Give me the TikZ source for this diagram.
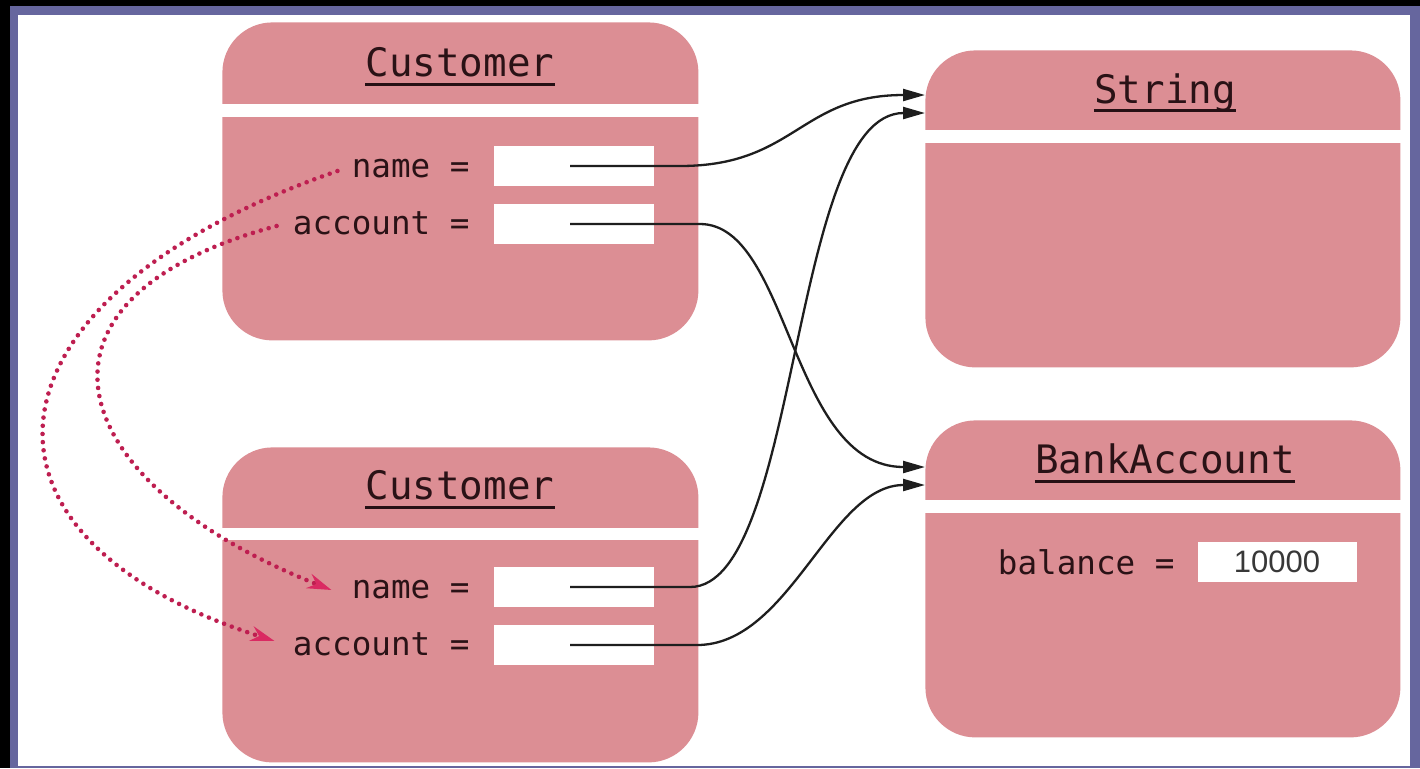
\documentclass[tikz,border=0pt]{standalone}
\usepackage{fontspec}
\setmonofont{DejaVu Sans Mono}
\newfontfamily\numfont{Liberation Sans}
\usetikzlibrary{arrows.meta}

\definecolor{framepurple}{HTML}{66669E}
\definecolor{objpink}{HTML}{DC8E94}
\definecolor{inkdark}{HTML}{2A1216}
\definecolor{refline}{HTML}{1E1E1E}
\definecolor{copyred}{HTML}{BE1E50}
\definecolor{copytip}{HTML}{DA2A62}

\begin{document}
\begin{tikzpicture}[x=0.5pt,y=-0.5pt,
  objbox/.style={fill=objpink, rounded corners=25pt, anchor=north west,
    inner sep=0pt, minimum width=238pt},
  gapband/.style={fill=white},
  classname/.style={font=\ttfamily\fontsize{19.6}{22}\selectfont, text=inkdark,
    inner sep=0pt, anchor=base},
  uline/.style={draw=inkdark!90!black, line width=1.5pt},
  fieldname/.style={font=\ttfamily\fontsize{16.3}{19}\selectfont, text=inkdark,
    inner sep=0pt, anchor=mid east},
  fieldbox/.style={fill=white, inner sep=0pt, minimum width=80pt,
    minimum height=20pt},
  ref/.style={draw=refline, line width=1.15pt,
    -{Triangle[length=11pt,width=6pt]}},
  copyref/.style={draw=copyred, line width=2.3pt, line cap=round,
    dash pattern=on 0pt off 4.1pt,
    -{Stealth[length=12pt,width=7.5pt,color=copytip]}},
]
% page, frame and white paper
\useasboundingbox (0,0) rectangle (1420,768);
\fill[black] (0,0) rectangle (1420,768);
\fill[framepurple] (10,6) rectangle (1420,768);
\fill[white] (18,15) rectangle (1410,766);

% ---- first Customer object
\node[objbox, minimum height=159pt] (cust1) at (222,22) {};
\fill[gapband] (220,104) rectangle (700,117);
\node[classname] (cust1t) at (460,76) {Customer};
\draw[uline] ([yshift=-4pt]cust1t.base west) -- ([yshift=-4pt]cust1t.base east);
\node[fieldname] (c1n) at (470,173) {name =};
\node[fieldname] (c1a) at (470,230) {account =};
\node[fieldbox] (c1nb) at (574,166) {};
\node[fieldbox] (c1ab) at (574,224) {};

% ---- second Customer object
\node[objbox, minimum height=157.5pt] (cust2) at (222,447) {};
\fill[gapband] (220,528) rectangle (700,540);
\node[classname] (cust2t) at (460,499) {Customer};
\draw[uline] ([yshift=-4pt]cust2t.base west) -- ([yshift=-4pt]cust2t.base east);
\node[fieldname] (c2n) at (470,594) {name =};
\node[fieldname] (c2a) at (470,651) {account =};
\node[fieldbox] (c2nb) at (574,587) {};
\node[fieldbox] (c2ab) at (574,645) {};

% ---- String object
\node[objbox, minimum height=158.5pt, minimum width=237.5pt] (str) at (925,50) {};
\fill[gapband] (923,130) rectangle (1403,143);
\node[classname] (strt) at (1165,103) {String};
\draw[uline] ([yshift=-3.5pt]strt.base west) -- ([yshift=-3.5pt]strt.base east);

% ---- BankAccount object
\node[objbox, minimum height=158.5pt, minimum width=237.5pt] (bank) at (925,420) {};
\fill[gapband] (923,500) rectangle (1403,513);
\node[classname] (bankt) at (1165,473) {BankAccount};
\draw[uline] ([yshift=-4pt]bankt.base west) -- ([yshift=-4pt]bankt.base east);
\node[fieldname] (bal) at (1175,570) {balance =};
\node[fieldbox, minimum width=79.5pt, font=\numfont\fontsize{15.5}{18}\selectfont,
  text=black!78] (balb) at (1277,562) {10000};

% entry points on the left edges of the referenced objects
\coordinate (sin1) at (925,95);
\coordinate (sin2) at (925,113);
\coordinate (bin1) at (925,467);
\coordinate (bin2) at (925,485);

% ---- references held by the fields
\draw[ref] ([xshift=-2pt]c1nb.center) -- (680,166) .. controls (795,166) and (800,95) .. (sin1);
\draw[ref] ([xshift=-2pt]c1ab.center) -- (700,224) .. controls (790,224) and (790,467) .. (bin1);
\draw[ref] ([xshift=-2pt]c2nb.center) -- (690,587) .. controls (800,587) and (790,113) .. (sin2);
\draw[ref] ([xshift=-2pt]c2ab.center) -- (697,645) .. controls (790,645) and (830,485) .. (bin2);

% ---- copied field values
\draw[copyref] ([xshift=-7pt,yshift=1pt]c1n.mid west) .. controls (-27,297) and (-55,536)
  .. ([xshift=-9pt,yshift=5pt]c2a.mid west);
\draw[copyref] ([xshift=-8pt,yshift=2pt]c1a.mid west) .. controls (5,299) and (61,483)
  .. ([xshift=-10pt,yshift=2pt]c2n.mid west);
\end{tikzpicture}
\end{document}
